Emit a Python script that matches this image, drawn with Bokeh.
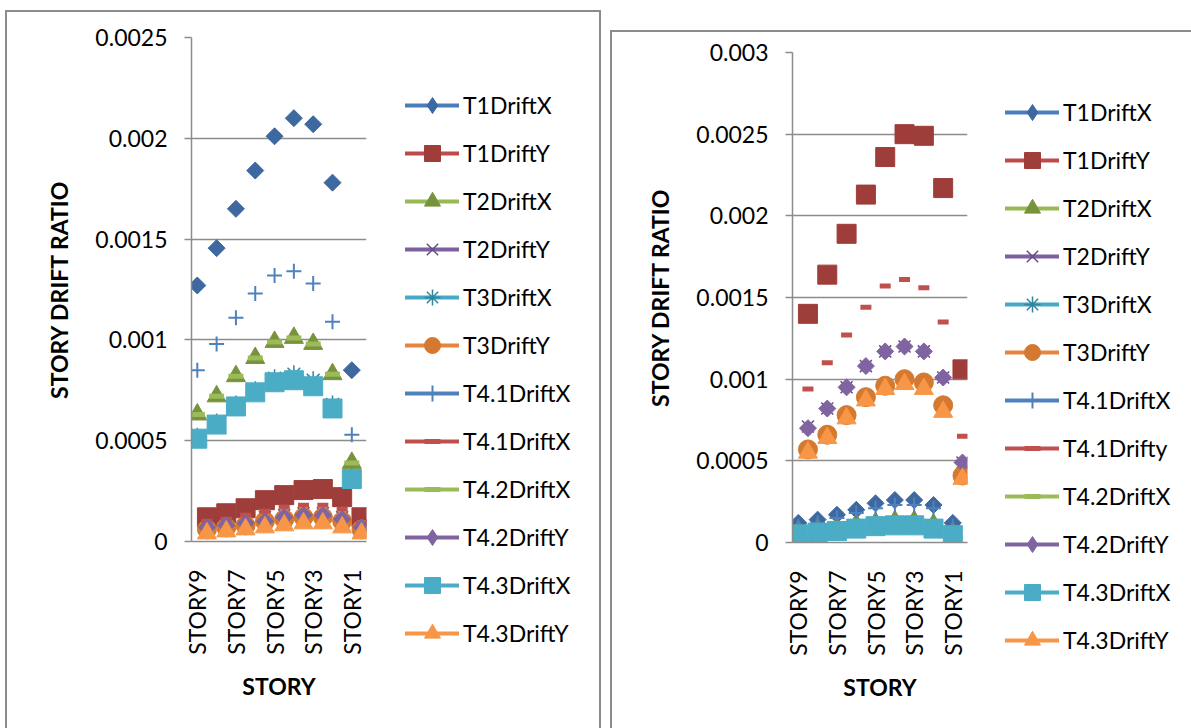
import math
import numpy as np
from bokeh.plotting import figure
from bokeh.models import ColumnDataSource, FixedTicker, Legend, LegendItem, Range1d
from bokeh.layouts import row
from bokeh.embed import file_html
from bokeh.resources import INLINE

# ---------------------------------------------------------------- data
stories = ["STORY9", "STORY8", "STORY7", "STORY6", "STORY5",
           "STORY4", "STORY3", "STORY2", "STORY1"]
labelled_story_idx = [0, 2, 4, 6, 8]

left_y_tick_labels = ["0", "0.0005", "0.001", "0.0015", "0.002", "0.0025"]
right_y_tick_labels = ["0", "0.0005", "0.001", "0.0015", "0.002", "0.0025", "0.003"]

left_names = ["T1DriftX", "T1DriftY", "T2DriftX", "T2DriftY", "T3DriftX", "T3DriftY",
              "T4.1DriftX", "T4.1DriftX", "T4.2DriftX", "T4.2DriftY", "T4.3DriftX", "T4.3DriftY"]
right_names = ["T1DriftX", "T1DriftY", "T2DriftX", "T2DriftY", "T3DriftX", "T3DriftY",
               "T4.1DriftX", "T4.1Drifty", "T4.2DriftX", "T4.2DriftY", "T4.3DriftX", "T4.3DriftY"]

# left chart
l_t1_x = [0.00127, 0.001455, 0.00165, 0.00184, 0.00201, 0.0021, 0.00207, 0.00178, 0.00085]
l_t1_y = [0.00012, 0.00014, 0.000165, 0.000205, 0.00023, 0.000255, 0.00026, 0.00022, 0.00012]
l_t2_x = [0.00063, 0.00072, 0.00082, 0.00091, 0.00099, 0.00101, 0.00098, 0.00083, 0.00039]
l_t2_y = [0.00008, 0.00009, 0.0001, 0.00012, 0.00013, 0.00014, 0.00014, 0.00012, 0.00008]
l_t3_x = [0.00052, 0.00059, 0.00068, 0.00075, 0.00081, 0.00083, 0.0008, 0.00068, 0.00032]
l_t3_y = [0.00006, 0.00007, 0.00008, 0.0001, 0.00011, 0.00012, 0.00012, 0.0001, 0.00006]
l_t41_x = [0.00085, 0.00098, 0.00111, 0.00123, 0.00132, 0.00134, 0.00128, 0.00109, 0.00053]
l_t41_y = [0.0001, 0.00011, 0.00013, 0.00015, 0.00017, 0.00018, 0.00018, 0.00016, 0.00009]
l_t42_x = [0.00063, 0.00072, 0.00082, 0.00091, 0.00099, 0.00101, 0.00098, 0.00083, 0.00039]
l_t42_y = [0.00007, 0.00008, 0.00009, 0.0001, 0.00012, 0.00013, 0.00013, 0.00011, 0.00007]
l_t43_x = [0.00051, 0.00058, 0.00067, 0.00074, 0.00079, 0.0008, 0.00077, 0.00066, 0.00031]
l_t43_y = [0.00004, 0.00005, 0.00006, 0.00007, 0.00008, 0.00009, 0.00009, 0.00007, 0.00004]

# right chart
r_t1_x = [0.00012, 0.00014, 0.00017, 0.0002, 0.00024, 0.00026, 0.00026, 0.00023, 0.00012]
r_t1_y = [0.0014, 0.00164, 0.00189, 0.00213, 0.00236, 0.0025, 0.00249, 0.00217, 0.00106]
r_t2_x = [0.00007, 0.00008, 0.00009, 0.00011, 0.00012, 0.00013, 0.00013, 0.00011, 0.00006]
r_t2_y = [0.00071, 0.00082, 0.00095, 0.00108, 0.00117, 0.0012, 0.00117, 0.00101, 0.00049]
r_t3_x = [0.00005, 0.00006, 0.00007, 0.00009, 0.0001, 0.00011, 0.00011, 0.00009, 0.00005]
r_t3_y = [0.00057, 0.00066, 0.00078, 0.00089, 0.00096, 0.001, 0.00098, 0.00084, 0.00041]
r_t41_x = [0.0001, 0.00012, 0.00015, 0.00018, 0.00021, 0.00023, 0.00023, 0.00021, 0.0001]
r_t41_y = [0.00094, 0.0011, 0.00127, 0.00144, 0.00157, 0.00161, 0.00156, 0.00135, 0.00065]
r_t42_x = [0.00007, 0.00008, 0.00009, 0.00011, 0.00012, 0.00013, 0.00013, 0.00011, 0.00006]
r_t42_y = [0.0007, 0.00082, 0.00095, 0.00108, 0.00117, 0.0012, 0.00117, 0.00101, 0.00049]
r_t43_x = [0.00005, 0.00006, 0.00007, 0.000085, 0.0001, 0.000105, 0.000105, 0.000085, 0.000045]
r_t43_y = [0.00055, 0.00064, 0.00076, 0.00087, 0.00094, 0.00097, 0.00094, 0.0008, 0.00039]

left_values = [l_t1_x, l_t1_y, l_t2_x, l_t2_y, l_t3_x, l_t3_y,
               l_t41_x, l_t41_y, l_t42_x, l_t42_y, l_t43_x, l_t43_y]
right_values = [r_t1_x, r_t1_y, r_t2_x, r_t2_y, r_t3_x, r_t3_y,
                r_t41_x, r_t41_y, r_t42_x, r_t42_y, r_t43_x, r_t43_y]

# ---------------------------------------------------------------- styling
FONT = "Lato"
FONT_SIZE = "23px"
GRID = "#8C8C8C"
BOX = "2px solid #8C8C8C"
Y_SHIFT = 0.5   # Y-direction series sit half a category to the right

STYLES = [
    dict(marker="square", angle=math.pi / 4, size=12, color="#3E68A0", legend="#4A7EBB", key="diamond"),
    dict(marker="square", size=19, color="#9E3D3A", legend="#BE4B48"),
    dict(marker="triangle", size=19, color="#77933C", legend="#98B954"),
    dict(marker="x", size=17, color="#664B86", legend="#7D60A0", lw=1.5),
    dict(marker="asterisk", size=18, color="#31859C", legend="#46AAC5", lw=1.5),
    dict(marker="circle", size=19, color="#D4792F", legend="#E6853F"),
    dict(marker="cross", size=15, color="#4F81BD", legend="#4F81BD", lw=2),
    dict(marker="dash", size=11, color="#C0504D", legend="#C0504D", lw=5),
    dict(marker="dash", size=15, color="#9BBB59", legend="#9BBB59", lw=5),
    dict(marker="square", angle=math.pi / 4, size=12, color="#8064A2", legend="#8064A2", key="diamond"),
    dict(marker="square", size=19, color="#4BACC6", legend="#4BACC6"),
    dict(marker="triangle", size=19, color="#F79646", legend="#F79646"),
]
LINE_MARKERS = {"x", "asterisk", "cross", "dash"}


def marker_kwargs(st, for_key=False):
    marker = st.get("key", st["marker"]) if for_key else st["marker"]
    kw = dict(marker=marker, size=st["size"],
              angle=0.0 if for_key else st.get("angle", 0.0))
    if marker in LINE_MARKERS:
        kw.update(line_color=st["color"], line_width=st["lw"], fill_color=None)
    else:
        kw.update(fill_color=st["color"], line_color=st["color"], line_width=1)
    return kw


def make_plot(values, tick_labels, width, height, borders, styles):
    ticks = [float(s) for s in tick_labels]
    p = figure(width=width, height=height, title=None,
               x_range=Range1d(-0.3, 8.76), y_range=Range1d(0, ticks[-1]),
               output_backend="svg", toolbar_location=None,
               min_border_left=borders[0], min_border_right=borders[1],
               min_border_top=borders[2], min_border_bottom=borders[3])
    p.frame_align = False
    p.outline_line_color = None
    p.background_fill_color = "white"
    p.border_fill_color = "white"
    p.xgrid.visible = False
    p.ygrid.grid_line_color = GRID
    p.ygrid.grid_line_width = 1.5

    ya = p.yaxis[0]
    ya.ticker = FixedTicker(ticks=ticks)
    ya.major_label_overrides = {t: s for t, s in zip(ticks, tick_labels)}
    ya.axis_line_color = GRID
    ya.axis_line_width = 1.5
    ya.major_tick_line_color = GRID
    ya.major_tick_line_width = 1.5
    ya.major_tick_out = 7
    ya.major_tick_in = 0
    ya.minor_tick_line_color = None
    ya.major_label_standoff = 17
    ya.major_label_text_font = FONT
    ya.major_label_text_font_size = FONT_SIZE
    ya.major_label_text_color = "black"
    ya.axis_label = "STORY DRIFT RATIO"
    ya.axis_label_text_font = FONT
    ya.axis_label_text_font_style = "bold"
    ya.axis_label_text_font_size = FONT_SIZE
    ya.axis_label_text_color = "black"
    ya.axis_label_standoff = 19

    xa = p.xaxis[0]
    xa.ticker = FixedTicker(ticks=labelled_story_idx)
    xa.major_label_overrides = {i: stories[i] for i in labelled_story_idx}
    xa.major_label_orientation = math.pi / 2
    xa.axis_line_color = GRID
    xa.axis_line_width = 1.5
    xa.major_tick_line_color = None
    xa.major_tick_out = 0
    xa.major_tick_in = 0
    xa.minor_tick_line_color = None
    xa.major_label_standoff = 28
    xa.major_label_text_font = FONT
    xa.major_label_text_font_size = FONT_SIZE
    xa.major_label_text_color = "black"
    xa.axis_label = "STORY"
    xa.axis_label_text_font = FONT
    xa.axis_label_text_font_style = "bold"
    xa.axis_label_text_font_size = FONT_SIZE
    xa.axis_label_text_color = "black"
    xa.axis_label_standoff = 14

    for k, vals in enumerate(values):
        shift = Y_SHIFT if k % 2 == 1 else 0.0
        src = ColumnDataSource(dict(x=[i + shift for i in range(len(stories))], y=vals))
        p.scatter(x="x", y="y", source=src, **marker_kwargs(styles[k]))
    return p


def make_legend(names, styles, width, height, loc):
    # a bare canvas that only carries the series key
    lp = figure(width=width, height=height, title=None,
                x_range=Range1d(0, 1), y_range=Range1d(0, 1),
                x_axis_location=None, y_axis_location=None,
                output_backend="svg", toolbar_location=None, min_border=0)
    lp.frame_align = False
    lp.outline_line_color = None
    lp.background_fill_color = "white"
    lp.border_fill_color = "white"
    lp.grid.visible = False
    items = []
    for name, st in zip(names, styles):
        key = lp.line(x=np.array([np.nan]), y=np.array([np.nan]),
                      line_color=st["legend"], line_width=4, line_cap="round")
        mk = lp.scatter(x=np.array([np.nan]), y=np.array([np.nan]),
                        **marker_kwargs(st, for_key=True))
        items.append(LegendItem(label=name, renderers=[key, mk]))
    legend = Legend(items=items, location=loc, orientation="vertical",
                    glyph_width=54, glyph_height=40, label_height=40, spacing=8,
                    padding=0, margin=0, label_standoff=4,
                    label_text_font=FONT, label_text_font_size=FONT_SIZE,
                    label_text_color="black",
                    border_line_color=None, background_fill_alpha=0)
    lp.add_layout(legend)
    return lp


left_plot = make_plot(left_values, left_y_tick_labels, 385, 718, (184, 26, 25, 189), STYLES)
left_plot.margin = (10, 0, 0, 5)
left_plot.styles = {"border-left": BOX, "border-top": BOX}

left_key = make_legend(left_names, STYLES, 211, 718, (15, 77))
left_key.margin = (10, 0, 0, 0)
left_key.styles = {"border-top": BOX, "border-right": BOX}

right_plot = make_plot(right_values, right_y_tick_labels, 380, 698, (180, 25, 20, 188), STYLES)
right_plot.margin = (30, 0, 0, 9)
right_plot.styles = {"border-left": BOX, "border-top": BOX}

right_key = make_legend(right_names, STYLES, 201, 698, (15, 70))
right_key.margin = (30, 0, 0, 0)
right_key.styles = {"border-top": BOX}

page = row(left_plot, left_key, right_plot, right_key)
open("out.html", "w").write(file_html(page, INLINE))
